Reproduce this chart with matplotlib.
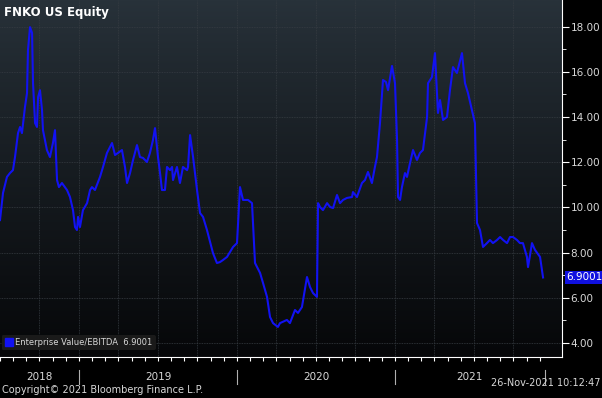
import numpy as np
import matplotlib
matplotlib.use('Agg')
import matplotlib.pyplot as plt
from matplotlib.transforms import blended_transform_factory

# EV/EBITDA readings, x in decimal years
years = [2018.500, 2018.519, 2018.544, 2018.563, 2018.582, 2018.595, 2018.614, 2018.627,
         2018.639, 2018.658, 2018.671, 2018.677, 2018.690, 2018.703, 2018.709, 2018.722,
         2018.734, 2018.741, 2018.753, 2018.766, 2018.772, 2018.797, 2018.816, 2018.835,
         2018.848, 2018.861, 2018.873, 2018.892, 2018.924, 2018.943, 2018.962, 2018.975,
         2018.987, 2018.994, 2019.006, 2019.025, 2019.051, 2019.070, 2019.082, 2019.101,
         2019.133, 2019.152, 2019.177, 2019.196, 2019.209, 2019.228, 2019.247, 2019.272,
         2019.291, 2019.304, 2019.323, 2019.342, 2019.367, 2019.386, 2019.405, 2019.430,
         2019.449, 2019.468, 2019.481, 2019.500, 2019.513, 2019.525, 2019.544, 2019.557,
         2019.576, 2019.589, 2019.595, 2019.608, 2019.620, 2019.639, 2019.658, 2019.684,
         2019.690, 2019.703, 2019.722, 2019.747, 2019.766, 2019.785, 2019.810, 2019.848,
         2019.873, 2019.892, 2019.911, 2019.937, 2019.975, 2020.000, 2020.019, 2020.038,
         2020.070, 2020.095, 2020.114, 2020.127, 2020.146, 2020.165, 2020.190, 2020.209,
         2020.228, 2020.259, 2020.272, 2020.316, 2020.335, 2020.367, 2020.386, 2020.411,
         2020.443, 2020.462, 2020.481, 2020.506, 2020.513, 2020.525, 2020.544, 2020.570,
         2020.589, 2020.608, 2020.633, 2020.652, 2020.671, 2020.696, 2020.728, 2020.734,
         2020.759, 2020.791, 2020.810, 2020.829, 2020.854, 2020.873, 2020.886, 2020.905,
         2020.924, 2020.943, 2020.956, 2020.981, 2021.000, 2021.013, 2021.019, 2021.032,
         2021.044, 2021.063, 2021.076, 2021.095, 2021.114, 2021.139, 2021.158, 2021.177,
         2021.203, 2021.209, 2021.234, 2021.253, 2021.272, 2021.285, 2021.304, 2021.329,
         2021.348, 2021.367, 2021.392, 2021.424, 2021.443, 2021.462, 2021.487, 2021.506,
         2021.519, 2021.538, 2021.557, 2021.582, 2021.601, 2021.620, 2021.646, 2021.665,
         2021.684, 2021.709, 2021.728, 2021.747, 2021.772, 2021.791, 2021.810, 2021.835,
         2021.842, 2021.867, 2021.886, 2021.918, 2021.937]
ev_ebitda = [9.44, 10.64, 11.35, 11.52, 11.65, 12.23, 13.29, 13.56,
             13.29, 14.44, 15.06, 16.96, 17.98, 17.72, 15.50, 13.73,
             13.56, 14.88, 15.19, 14.31, 13.42, 12.54, 12.23, 12.85,
             13.42, 11.21, 10.90, 11.08, 10.77, 10.46, 9.88, 9.13,
             9.00, 9.58, 9.13, 9.88, 10.19, 10.77, 10.90, 10.77,
             11.35, 11.79, 12.41, 12.67, 12.85, 12.32, 12.41, 12.54,
             11.79, 11.08, 11.52, 12.10, 12.76, 12.23, 12.19, 12.01,
             12.41, 12.98, 13.51, 12.23, 11.52, 10.77, 10.77, 11.79,
             11.65, 11.79, 11.21, 11.52, 11.79, 11.08, 11.79, 11.65,
             11.79, 13.20, 12.23, 10.77, 9.75, 9.58, 9.00, 7.98,
             7.54, 7.58, 7.67, 7.81, 8.25, 8.42, 10.90, 10.33,
             10.33, 10.19, 7.54, 7.36, 7.10, 6.65, 6.04, 5.15,
             4.88, 4.71, 4.88, 5.02, 4.88, 5.46, 5.33, 5.59,
             6.92, 6.48, 6.21, 6.04, 10.19, 10.02, 9.88, 10.19,
             10.02, 9.97, 10.55, 10.19, 10.33, 10.42, 10.46, 10.68,
             10.46, 11.08, 11.21, 11.57, 11.08, 11.79, 12.23, 13.73,
             15.64, 15.55, 15.19, 16.26, 15.50, 12.98, 10.46, 10.33,
             10.90, 11.52, 11.35, 11.96, 12.54, 12.10, 12.41, 12.54,
             14.00, 15.50, 15.77, 16.83, 14.18, 14.75, 13.87, 14.00,
             15.19, 16.21, 15.95, 16.83, 15.50, 15.06, 14.31, 13.73,
             9.31, 9.00, 8.25, 8.42, 8.56, 8.42, 8.56, 8.69,
             8.56, 8.42, 8.69, 8.69, 8.56, 8.42, 8.42, 7.81,
             7.36, 8.42, 8.12, 7.81, 6.90]
last_value = 6.9001

year_names = ['2018', '2019', '2020', '2021']
year_starts = [2019, 2020, 2021]
y_ticks = [4, 6, 8, 10, 12, 14, 16, 18]

x_min, x_max = 2018.5, 2022.057
y_min, y_max = 3.38, 19.18

fig = plt.figure(figsize=(6.02, 3.98), dpi=100, facecolor='black')
ax = fig.add_axes([0, 41 / 398, 562 / 602, 357 / 398])
ax.set_facecolor('black')

# dark slate gradient background
grad = np.linspace(0, 1, 256).reshape(-1, 1)
top = np.array([40, 50, 58]) / 255
bot = np.array([6, 7, 9]) / 255
img = top + (bot - top) * grad[..., None] ** 0.9
ax.imshow(img, extent=[x_min, x_max, y_min, y_max], aspect='auto', origin='upper', zorder=0)

ax.plot(years, ev_ebitda, color='#1212f2', lw=1.5, zorder=3)

ax.set_xlim(x_min, x_max)
ax.set_ylim(y_min, y_max)

# grid
for q in np.arange(2018.75, 2022.0, 0.25):
    ax.axvline(q, color='#363c42', lw=0.6, ls=(0, (1, 1)), zorder=1)
for v in y_ticks:
    ax.axhline(v, color='#363c42', lw=0.6, ls=(0, (1, 1)), zorder=1)

# axes styling
for s in ['top', 'left']:
    ax.spines[s].set_visible(False)
ax.spines['right'].set_color('white')
ax.spines['bottom'].set_color('white')
ax.yaxis.tick_right()
ax.set_yticks(y_ticks)
ax.set_yticklabels(['%.2f' % v for v in y_ticks])
ax.set_yticks(range(5, 19, 2), minor=True)
ax.tick_params(axis='y', which='major', colors='white', labelcolor='#d8d8d8',
               length=5, labelsize=7.5, pad=1)
ax.tick_params(axis='y', which='minor', colors='white', length=3)

months = np.arange(2018.5, 2022.0, 1 / 12)
ax.set_xticks(months)
ax.set_xticklabels([])
ax.tick_params(axis='x', colors='white', length=3, direction='out')

# year labels and separators (last span ends at the last data point)
tr = blended_transform_factory(ax.transData, fig.transFigure)
bounds = [x_min] + year_starts + [years[-1]]
for i, name in enumerate(year_names):
    ax.text((bounds[i] + bounds[i + 1]) / 2, 1 - 377 / 398, name, transform=tr,
            color='#d8d8d8', fontsize=7.5, ha='center', va='center')
for ys in year_starts + [years[-1] + 0.01]:
    ax.plot([ys, ys], [1 - 370 / 398, 1 - 384 / 398], transform=tr, color='#b0b0b0',
            lw=0.8, clip_on=False)

# title
ax.text(0.008, 0.965, 'FNKO US Equity', transform=ax.transAxes, color='white',
        fontsize=8.5, fontweight='bold', ha='left', va='center')

# legend
leg = ax.legend([plt.Line2D([], [], marker='s', color='#1212f2', ls='none', markersize=6)],
                ['Enterprise Value/EBITDA  %.4f' % last_value], loc='lower left',
                bbox_to_anchor=(0.0, 0.015), fontsize=6.0, frameon=True, handletextpad=0.3,
                borderpad=0.35, handlelength=1.0, borderaxespad=0.2)
leg.get_frame().set_facecolor('#1a1a1a')
leg.get_frame().set_edgecolor('none')
leg.get_frame().set_alpha(1)
for t in leg.get_texts():
    t.set_color('#d8d8d8')

# last value tag
ax.annotate('%.4f' % last_value, xy=(1.0, last_value),
            xycoords=blended_transform_factory(ax.transAxes, ax.transData),
            xytext=(3, 0), textcoords='offset points', color='white', fontsize=7.5,
            va='center', ha='left',
            bbox=dict(boxstyle='square,pad=0.15', fc='#1010e0', ec='none'))

fig.text(0.003, 1 - 390 / 398, 'Copyright\u00a9 2021 Bloomberg Finance L.P.', color='#d8d8d8',
         fontsize=7, ha='left', va='center')
fig.text(0.997, 1 - 383 / 398, '26-Nov-2021 10:12:47', color='#d8d8d8',
         fontsize=7, ha='right', va='center')

fig.savefig('out.png', dpi=100, facecolor='black')
